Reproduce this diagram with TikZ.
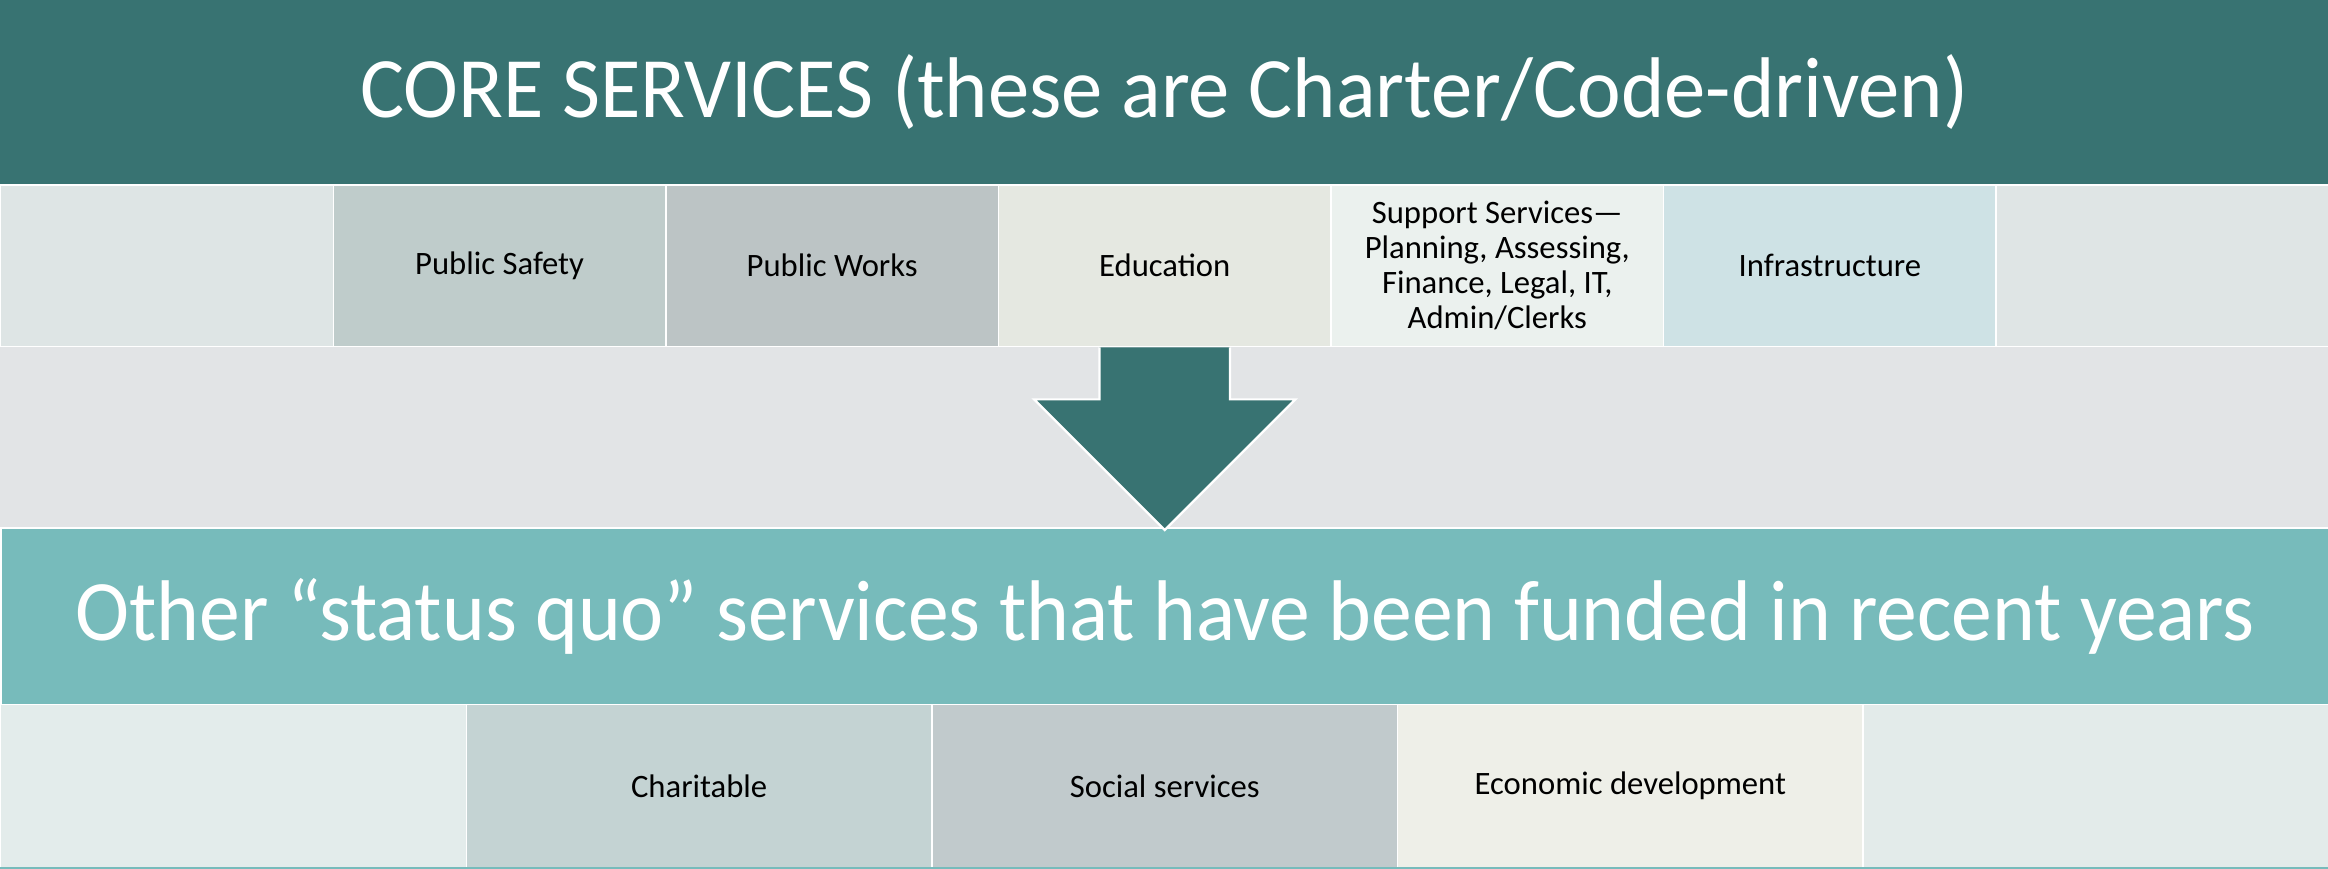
\documentclass[tikz,border=0pt]{standalone}
\usepackage{fontspec}
\setmainfont{Carlito}
\newfontfamily\coretitle[FakeStretch=0.96]{Carlito}
\newfontfamily\othertitle[FakeStretch=0.947]{Carlito}
\definecolor{darkteal}{RGB}{56,115,114}
\definecolor{lightteal}{RGB}{119,187,187}
\definecolor{midgrey}{RGB}{226,228,230}
\definecolor{cA}{RGB}{222,229,229}
\definecolor{cB}{RGB}{191,204,203}
\definecolor{cC}{RGB}{188,196,197}
\definecolor{cD}{RGB}{229,232,225}
\definecolor{cE}{RGB}{235,241,238}
\definecolor{cF}{RGB}{206,226,229}
\definecolor{cG}{RGB}{223,229,229}
\definecolor{dA}{RGB}{227,236,235}
\definecolor{dB}{RGB}{196,211,211}
\definecolor{dC}{RGB}{193,202,204}
\definecolor{dD}{RGB}{238,239,232}
\definecolor{dE}{RGB}{227,235,234}
\tikzset{
  banner/.style={anchor=north west, inner sep=0pt, minimum width=1568bp,
    text=white},
  cellA/.style={anchor=north west, inner sep=0pt, minimum width=224bp,
    minimum height=109bp, draw=white, line width=1bp, align=center,
    font=\fontsize{22bp}{23.5bp}\selectfont},
  cellB/.style={anchor=north west, inner sep=0pt, minimum width=313.6bp,
    minimum height=110bp, draw=white, line width=1bp, align=center,
    font=\fontsize{22bp}{23.5bp}\selectfont},
}
\begin{document}
\begin{tikzpicture}[x=1bp,y=-1bp]
\useasboundingbox (0,0) rectangle (1568,585);
% grey middle field
\fill[midgrey] (0,233) rectangle (1568,355);
% upper banner and its row of services
\node[banner, fill=darkteal, minimum height=124bp,
  font=\coretitle\fontsize{58bp}{62bp}\selectfont] (core) at (0,0)
  {CORE SERVICES (these are Charter/Code-driven)};
\node[cellA, fill=cA] (r1a) at (0,124) {};
\node[cellA, fill=cB] (safety) at (224,124) {Public Safety};
\node[cellA, fill=cC] (works) at (448,124) {Public Works};
\node[cellA, fill=cD] (edu) at (672,124) {Education};
\node[cellA, fill=cE] (support) at (896,124)
  {Support Services—\\Planning, Assessing,\\Finance, Legal, IT,\\Admin/Clerks};
\node[cellA, fill=cF] (infra) at (1120,124) {Infrastructure};
\node[cellA, fill=cG] (r1g) at (1344,124) {};
% lower banner and its row
\node[banner, fill=lightteal, minimum height=119bp, draw=white, line width=1.5bp,
  font=\othertitle\fontsize{58bp}{62bp}\selectfont]
  (other) at (0,355) {Other “status quo” services that have been funded in recent years};
\node[cellB, fill=dA] (r2a) at (0,474) {};
\node[cellB, fill=dB] (charity) at (313.6,474) {Charitable};
\node[cellB, fill=dC] (social) at (627.2,474) {Social services};
\node[cellB, fill=dD] (econ) at (940.8,474) {Economic development};
\node[cellB, fill=dE] (r2e) at (1254.4,474) {};
\draw[lightteal, line width=1.5bp] (r2a.south west) -- (r2e.south east);
% block arrow from the core row down to the lower banner
\coordinate (tip) at (other.north -| edu.south);
\draw[fill=darkteal, draw=white, line width=1.5bp, line join=miter]
  ([xshift=-44bp]edu.south) -- ([xshift=-44bp,yshift=-35bp]edu.south)
  -- ([xshift=-88bp,yshift=-35bp]edu.south) -- ([yshift=-2bp]tip)
  -- ([xshift=88bp,yshift=-35bp]edu.south) -- ([xshift=44bp,yshift=-35bp]edu.south)
  -- ([xshift=44bp]edu.south);
\end{tikzpicture}
\end{document}
